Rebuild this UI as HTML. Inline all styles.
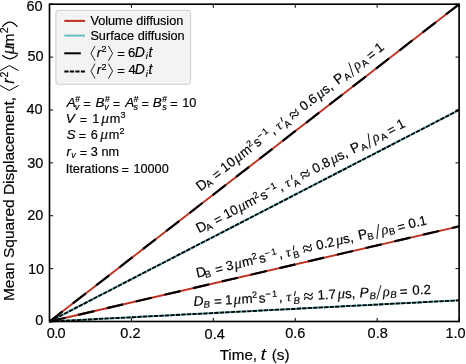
<!DOCTYPE html>
<html><head><meta charset="utf-8"><title>MSD</title><style>
html,body{margin:0;padding:0;background:#fff;overflow:hidden}
svg{display:block;will-change:transform}
text{font-family:"Liberation Sans",sans-serif;fill:#000;stroke:#000;stroke-width:0.18px}
.i{font-style:italic}
.g{font-family:"Liberation Serif",serif;font-style:italic;fill:#1a1a1a}
.s{font-family:"Liberation Serif",serif}
</style></head><body>
<svg width="466" height="364" viewBox="0 0 466 364">
<rect x="0" y="0" width="466" height="364" fill="#fff"/>
<line x1="49.50" y1="321.50" x2="459.10" y2="4.20" stroke="#bf2e1e" stroke-width="1.8"/>
<line x1="49.50" y1="321.50" x2="459.10" y2="226.31" stroke="#bf2e1e" stroke-width="1.8"/>
<line x1="49.50" y1="321.50" x2="459.10" y2="109.97" stroke="#66c0c5" stroke-width="2.0"/>
<line x1="49.50" y1="321.50" x2="459.10" y2="300.35" stroke="#66c0c5" stroke-width="2.0"/>
<line x1="49.50" y1="321.50" x2="459.10" y2="4.20" stroke="#000" stroke-width="2.2" stroke-dasharray="16.5 13.0"/>
<line x1="49.50" y1="321.50" x2="459.10" y2="226.31" stroke="#000" stroke-width="2.2" stroke-dasharray="16.5 13.0"/>
<line x1="49.50" y1="321.50" x2="459.10" y2="109.97" stroke="#000" stroke-width="1.8" stroke-dasharray="4.3 1.2"/>
<line x1="49.50" y1="321.50" x2="459.10" y2="300.35" stroke="#000" stroke-width="1.8" stroke-dasharray="4.3 1.2"/>
<path d="M49.50 321.5 v-3.6 M49.50 4.2 v3.6" stroke="#000" stroke-width="1"/>
<path d="M131.42 321.5 v-3.6 M131.42 4.2 v3.6" stroke="#000" stroke-width="1"/>
<path d="M213.34 321.5 v-3.6 M213.34 4.2 v3.6" stroke="#000" stroke-width="1"/>
<path d="M295.26 321.5 v-3.6 M295.26 4.2 v3.6" stroke="#000" stroke-width="1"/>
<path d="M377.18 321.5 v-3.6 M377.18 4.2 v3.6" stroke="#000" stroke-width="1"/>
<path d="M459.10 321.5 v-3.6 M459.10 4.2 v3.6" stroke="#000" stroke-width="1"/>
<path d="M49.5 321.50 h3.6 M459.1 321.50 h-3.6" stroke="#000" stroke-width="1"/>
<path d="M49.5 268.62 h3.6 M459.1 268.62 h-3.6" stroke="#000" stroke-width="1"/>
<path d="M49.5 215.73 h3.6 M459.1 215.73 h-3.6" stroke="#000" stroke-width="1"/>
<path d="M49.5 162.85 h3.6 M459.1 162.85 h-3.6" stroke="#000" stroke-width="1"/>
<path d="M49.5 109.97 h3.6 M459.1 109.97 h-3.6" stroke="#000" stroke-width="1"/>
<path d="M49.5 57.08 h3.6 M459.1 57.08 h-3.6" stroke="#000" stroke-width="1"/>
<path d="M49.5 4.20 h3.6 M459.1 4.20 h-3.6" stroke="#000" stroke-width="1"/>
<rect x="49.5" y="4.2" width="409.60" height="317.30" fill="none" stroke="#000" stroke-width="1.65"/>
<text x="55.9" y="338.0" font-size="14.5" text-anchor="middle" letter-spacing="-0.7">0.0</text>
<text x="130.4" y="337.8" font-size="14.5" text-anchor="middle">0.2</text>
<text x="214.7" y="338.6" font-size="14.5" text-anchor="middle">0.4</text>
<text x="295.3" y="338.3" font-size="14.5" text-anchor="middle">0.6</text>
<text x="377.7" y="338.3" font-size="14.5" text-anchor="middle">0.8</text>
<text x="455.6" y="338.3" font-size="14.5" text-anchor="middle">1.0</text>
<text x="43.3" y="324.5" font-size="14.5" text-anchor="end">0</text>
<text x="44.1" y="273.7" font-size="14.5" text-anchor="end">10</text>
<text x="43.3" y="219.9" font-size="14.5" text-anchor="end">20</text>
<text x="43.3" y="168.1" font-size="14.5" text-anchor="end">30</text>
<text x="42.7" y="114.1" font-size="14.5" text-anchor="end">40</text>
<text x="43.7" y="60.7" font-size="14.5" text-anchor="end">50</text>
<text x="42.7" y="11.0" font-size="14.5" text-anchor="end">60</text>
<text font-size="15.3"><tspan x="219.66" y="360.30" font-size="15.2">Time,</tspan><tspan x="271.65" y="360.30" font-size="15.3">(s)</tspan></text>
<text transform="translate(260.5,360.3) scale(1.22,1)" font-size="16.5" class="i" style="stroke:none">t</text>
<g transform="rotate(-90)">
<text font-size="15.3"><tspan x="-301.07" y="13.70" font-size="15.5">Mean Squared Displacement,</tspan><tspan x="-83.67" y="13.70" font-size="16" class="i">r</tspan><tspan x="-77.53" y="7.70" font-size="10.5">2</tspan><tspan x="-54.58" y="13.70" font-size="19" class="g">μ</tspan><tspan x="-46.32" y="13.70" font-size="15.3">m</tspan><tspan x="-33.13" y="7.70" font-size="10.5">2</tspan></text>
<path d="M-85.50 0.10 L-90.50 9.30 L-85.50 18.50" fill="none" stroke="#000" stroke-width="1.0"/>
<path d="M-70.60 0.10 L-65.60 9.30 L-70.60 18.50" fill="none" stroke="#000" stroke-width="1.0"/>
<path d="M-55.2 2.3 Q-62.4 9.85 -55.2 17.4 M-26.9 2.3 Q-17.2 9.85 -26.9 17.4" fill="none" stroke="#000" stroke-width="1.15"/>
</g>
<rect x="55.9" y="10.3" width="134.7" height="74" rx="2.5" fill="#f3f3f3" stroke="#cdcdcd" stroke-width="1"/>
<line x1="64.3" y1="20.9" x2="85.0" y2="20.9" stroke="#bf2e1e" stroke-width="2"/>
<line x1="64.3" y1="35.6" x2="85.0" y2="35.6" stroke="#66c0c5" stroke-width="2"/>
<line x1="64.3" y1="53.3" x2="85.0" y2="53.3" stroke="#000" stroke-width="2" stroke-dasharray="16.5 13.0"/>
<line x1="64.3" y1="71.5" x2="85.0" y2="71.5" stroke="#000" stroke-width="2" stroke-dasharray="4.3 1.2"/>
<text x="90.4" y="24.8" font-size="12.7">Volume diffusion</text>
<text x="90.4" y="40.0" font-size="12.7">Surface diffusion</text>
<path d="M95.10 46.00 L90.90 53.40 L95.10 60.80" fill="none" stroke="#000" stroke-width="0.85"/>
<path d="M108.40 46.00 L112.60 53.40 L108.40 60.80" fill="none" stroke="#000" stroke-width="0.85"/>
<text font-size="13"><tspan x="96.68" y="56.70" font-size="13.5" class="i">r</tspan><tspan x="101.45" y="51.90" font-size="9">2</tspan><tspan x="117.27" y="57.60" font-size="13">=</tspan><tspan x="128.04" y="56.70" font-size="13">6</tspan><tspan x="134.77" y="56.70" font-size="14" class="i">D</tspan><tspan x="145.85" y="58.90" font-size="9.5" class="i">i</tspan><tspan x="148.56" y="56.70" font-size="14" class="i">t</tspan></text>
<path d="M95.10 63.70 L90.90 71.10 L95.10 78.50" fill="none" stroke="#000" stroke-width="0.85"/>
<path d="M108.40 63.70 L112.60 71.10 L108.40 78.50" fill="none" stroke="#000" stroke-width="0.85"/>
<text font-size="13"><tspan x="96.68" y="74.40" font-size="13.5" class="i">r</tspan><tspan x="101.45" y="69.60" font-size="9">2</tspan><tspan x="117.27" y="75.30" font-size="13">=</tspan><tspan x="128.40" y="74.40" font-size="13">4</tspan><tspan x="134.77" y="74.40" font-size="14" class="i">D</tspan><tspan x="145.85" y="76.60" font-size="9.5" class="i">i</tspan><tspan x="148.56" y="74.40" font-size="14" class="i">t</tspan></text>
<text font-size="12.7"><tspan x="66.87" y="107.00" font-size="13.5" class="i">A</tspan><tspan x="75.36" y="101.80" font-size="8.6">#</tspan><tspan x="74.71" y="109.70" font-size="9" class="i">v</tspan><tspan x="83.18" y="107.90" font-size="12.7">=</tspan><tspan x="95.38" y="107.00" font-size="13.5" class="i">B</tspan><tspan x="104.96" y="101.80" font-size="8.6">#</tspan><tspan x="104.31" y="109.70" font-size="9" class="i">v</tspan><tspan x="112.78" y="107.90" font-size="12.7">=</tspan><tspan x="125.17" y="107.00" font-size="13.5" class="i">A</tspan><tspan x="133.66" y="101.80" font-size="8.6">#</tspan><tspan x="133.48" y="109.70" font-size="9" class="i">s</tspan><tspan x="141.48" y="107.90" font-size="12.7">=</tspan><tspan x="152.78" y="107.00" font-size="13.5" class="i">B</tspan><tspan x="162.36" y="101.80" font-size="8.6">#</tspan><tspan x="162.18" y="109.70" font-size="9" class="i">s</tspan><tspan x="170.18" y="107.90" font-size="12.7">=</tspan><tspan x="182.23" y="107.00" font-size="12.7">10</tspan></text>
<text font-size="12.7"><tspan x="65.83" y="123.00" font-size="13.5" class="i">V</tspan><tspan x="79.68" y="123.90" font-size="12.7">=</tspan><tspan x="92.33" y="123.00" font-size="12.7">1</tspan><tspan x="101.32" y="123.00" font-size="15.5" class="g">μ</tspan><tspan x="109.66" y="123.00" font-size="12.7">m</tspan><tspan x="120.56" y="118.40" font-size="9">3</tspan></text>
<text font-size="12.7"><tspan x="66.42" y="138.80" font-size="13.5" class="i">S</tspan><tspan x="78.68" y="139.70" font-size="12.7">=</tspan><tspan x="90.66" y="138.80" font-size="12.7">6</tspan><tspan x="100.32" y="138.80" font-size="15.5" class="g">μ</tspan><tspan x="108.66" y="138.80" font-size="12.7">m</tspan><tspan x="119.45" y="134.20" font-size="9">2</tspan></text>
<text font-size="12.7"><tspan x="66.58" y="155.80" font-size="13.5" class="i">r</tspan><tspan x="71.31" y="157.90" font-size="9" class="i">v</tspan><tspan x="79.68" y="156.70" font-size="12.7">=</tspan><tspan x="90.82" y="155.80" font-size="12.7">3 nm</tspan></text>
<text font-size="12.7"><tspan x="65.71" y="172.60" font-size="12.9">Iterations</tspan><tspan x="121.58" y="173.50" font-size="12.7">=</tspan><tspan x="133.43" y="172.60" font-size="12.7">10000</tspan></text>
<g transform="translate(201.5,190.7) rotate(-37.76)"><text font-size="13.3"><tspan x="-1.13" y="0.00" font-size="13.8">D</tspan><tspan x="7.53" y="2.20" font-size="9.5">A</tspan><tspan x="18.35" y="0.90" font-size="13.3">=</tspan><tspan x="29.50" y="0.00" font-size="13.3">10</tspan><tspan x="45.41" y="0.00" font-size="15" class="g">μ</tspan><tspan x="53.31" y="0.00" font-size="13.3">m</tspan><tspan x="64.14" y="-5.00" font-size="9">2</tspan><tspan x="70.63" y="0.00" font-size="13.3">s</tspan><tspan x="77.35" y="-5.00" font-size="9">−</tspan><tspan x="84.11" y="-5.00" font-size="9">1</tspan><tspan x="90.80" y="0.00" font-size="13.3">,</tspan><tspan x="98.30" y="0.00" font-size="13.5" class="g">τ</tspan><tspan x="105.58" y="3.20" font-size="9.5">A</tspan><tspan x="115.28" y="2.40" font-size="18.5" class="s">≈</tspan><tspan x="129.40" y="0.00" font-size="13.3">0.6</tspan><tspan x="149.51" y="0.00" font-size="15" class="g">μ</tspan><tspan x="157.03" y="0.00" font-size="13.3">s,</tspan><tspan x="172.56" y="0.00" font-size="13.8">P</tspan><tspan x="182.08" y="2.20" font-size="9.5">A</tspan><tspan x="196.36" y="0.00" font-size="14.5" class="g">ρ</tspan><tspan x="204.18" y="2.20" font-size="9.5">A</tspan><tspan x="213.45" y="0.90" font-size="13.3">=</tspan><tspan x="224.60" y="0.00" font-size="13.3">1</tspan></text><line x1="190.00" y1="3.0" x2="195.00" y2="-11.2" stroke="#000" stroke-width="0.85"/><line x1="106.30" y1="-5.0" x2="107.70" y2="-9.6" stroke="#000" stroke-width="1.0"/></g>
<g transform="translate(200.0,232.8) rotate(-27.31)"><text font-size="13.3"><tspan x="-1.13" y="0.00" font-size="13.8">D</tspan><tspan x="7.53" y="2.20" font-size="9.5">A</tspan><tspan x="18.35" y="0.90" font-size="13.3">=</tspan><tspan x="29.50" y="0.00" font-size="13.3">10</tspan><tspan x="45.41" y="0.00" font-size="15" class="g">μ</tspan><tspan x="53.31" y="0.00" font-size="13.3">m</tspan><tspan x="64.14" y="-5.00" font-size="9">2</tspan><tspan x="70.63" y="0.00" font-size="13.3">s</tspan><tspan x="77.35" y="-5.00" font-size="9">−</tspan><tspan x="84.11" y="-5.00" font-size="9">1</tspan><tspan x="90.80" y="0.00" font-size="13.3">,</tspan><tspan x="98.30" y="0.00" font-size="13.5" class="g">τ</tspan><tspan x="105.58" y="3.20" font-size="9.5">A</tspan><tspan x="115.28" y="2.40" font-size="18.5" class="s">≈</tspan><tspan x="129.40" y="0.00" font-size="13.3">0.8</tspan><tspan x="149.51" y="0.00" font-size="15" class="g">μ</tspan><tspan x="157.03" y="0.00" font-size="13.3">s,</tspan><tspan x="172.56" y="0.00" font-size="13.8">P</tspan><tspan x="182.08" y="2.20" font-size="9.5">A</tspan><tspan x="196.36" y="0.00" font-size="14.5" class="g">ρ</tspan><tspan x="204.18" y="2.20" font-size="9.5">A</tspan><tspan x="213.45" y="0.90" font-size="13.3">=</tspan><tspan x="224.60" y="0.00" font-size="13.3">1</tspan></text><line x1="190.00" y1="3.0" x2="195.00" y2="-11.2" stroke="#000" stroke-width="0.85"/><line x1="106.30" y1="-5.0" x2="107.70" y2="-9.6" stroke="#000" stroke-width="1.0"/></g>
<g transform="translate(198.3,277.5) rotate(-13.08)"><text font-size="13.3"><tspan x="-1.13" y="0.00" font-size="13.8">D</tspan><tspan x="6.77" y="2.20" font-size="9.5">B</tspan><tspan x="18.35" y="0.90" font-size="13.3">=</tspan><tspan x="29.50" y="0.00" font-size="13.3">3</tspan><tspan x="38.01" y="0.00" font-size="15" class="g">μ</tspan><tspan x="45.92" y="0.00" font-size="13.3">m</tspan><tspan x="56.75" y="-5.00" font-size="9">2</tspan><tspan x="63.23" y="0.00" font-size="13.3">s</tspan><tspan x="69.96" y="-5.00" font-size="9">−</tspan><tspan x="76.71" y="-5.00" font-size="9">1</tspan><tspan x="83.41" y="0.00" font-size="13.3">,</tspan><tspan x="90.90" y="0.00" font-size="13.5" class="g">τ</tspan><tspan x="97.42" y="3.20" font-size="9.5">B</tspan><tspan x="107.89" y="2.40" font-size="18.5" class="s">≈</tspan><tspan x="122.00" y="0.00" font-size="13.3">0.2</tspan><tspan x="142.11" y="0.00" font-size="15" class="g">μ</tspan><tspan x="149.63" y="0.00" font-size="13.3">s,</tspan><tspan x="165.17" y="0.00" font-size="13.8">P</tspan><tspan x="173.92" y="2.20" font-size="9.5">B</tspan><tspan x="188.97" y="0.00" font-size="14.5" class="g">ρ</tspan><tspan x="196.02" y="2.20" font-size="9.5">B</tspan><tspan x="205.35" y="0.90" font-size="13.3">=</tspan><tspan x="216.90" y="0.00" font-size="13.3">0.1</tspan></text><line x1="182.60" y1="3.0" x2="187.60" y2="-11.2" stroke="#000" stroke-width="0.85"/><line x1="98.90" y1="-5.0" x2="100.30" y2="-9.6" stroke="#000" stroke-width="1.0"/></g>
<g transform="translate(194.2,306.0) rotate(-2.96)"><text font-size="13.3"><tspan x="-0.42" y="0.00" font-size="13.8" class="i">D</tspan><tspan x="9.51" y="2.20" font-size="9.5" class="i">B</tspan><tspan x="19.95" y="0.90" font-size="13.3">=</tspan><tspan x="31.10" y="0.00" font-size="13.3">1</tspan><tspan x="39.61" y="0.00" font-size="15" class="g">μ</tspan><tspan x="47.52" y="0.00" font-size="13.3">m</tspan><tspan x="58.35" y="-5.00" font-size="9">2</tspan><tspan x="64.83" y="0.00" font-size="13.3">s</tspan><tspan x="71.56" y="-5.00" font-size="9">−</tspan><tspan x="78.31" y="-5.00" font-size="9">1</tspan><tspan x="85.01" y="0.00" font-size="13.3">,</tspan><tspan x="92.50" y="0.00" font-size="13.5" class="g">τ</tspan><tspan x="99.51" y="3.20" font-size="9.5" class="i">B</tspan><tspan x="109.49" y="2.40" font-size="18.5" class="s">≈</tspan><tspan x="123.60" y="0.00" font-size="13.3">1.7</tspan><tspan x="143.71" y="0.00" font-size="15" class="g">μ</tspan><tspan x="151.23" y="0.00" font-size="13.3">s,</tspan><tspan x="165.88" y="0.00" font-size="13.8" class="i">P</tspan><tspan x="175.71" y="2.20" font-size="9.5" class="i">B</tspan><tspan x="188.97" y="0.00" font-size="14.5" class="g">ρ</tspan><tspan x="196.51" y="2.20" font-size="9.5" class="i">B</tspan><tspan x="206.05" y="0.90" font-size="13.3">=</tspan><tspan x="218.70" y="0.00" font-size="13.3">0.2</tspan></text><line x1="182.60" y1="3.0" x2="187.60" y2="-11.2" stroke="#000" stroke-width="0.85"/><line x1="100.50" y1="-5.0" x2="101.90" y2="-9.6" stroke="#000" stroke-width="1.0"/></g>
</svg></body></html>
